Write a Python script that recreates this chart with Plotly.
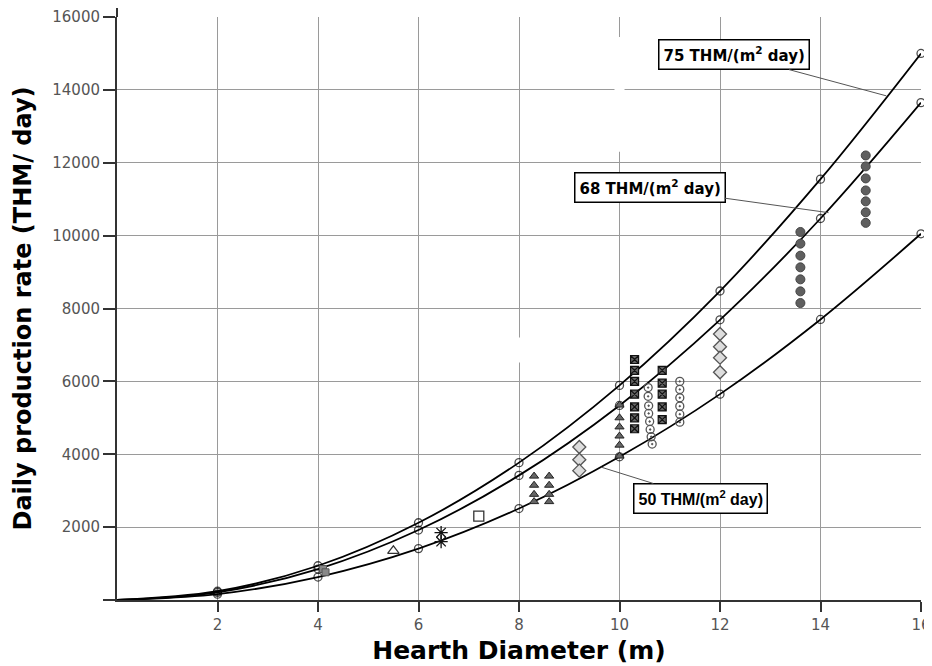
import plotly.graph_objects as go

# Hearth diameter grid for the constant-productivity curves
diam = [0, 2, 4, 6, 8, 10, 12, 14, 16]
rate75 = [0, 240, 940, 2120, 3770, 5890, 8480, 11550, 15000]
rate68 = [0, 210, 850, 1920, 3420, 5340, 7690, 10470, 13650]
rate50 = [0, 160, 630, 1410, 2510, 3930, 5650, 7700, 10050]

# Plant data points (diameter, production)
hatch_x = [4.1, 4.15]
hatch_y = [850, 760]
tri_open_x = [5.5]
tri_open_y = [1350]
star_x = [6.45, 6.45]
star_y = [1850, 1600]
sq_open_x = [7.2]
sq_open_y = [2300]
tri_x = [8.3, 8.3, 8.3, 8.3, 8.6, 8.6, 8.6, 8.6, 10, 10, 10, 10, 10, 10]
tri_y = [3400, 3150, 2900, 2700, 3400, 3150, 2900, 2700, 5350, 5000, 4750, 4500, 4250, 3950]
dia_x = [9.2, 9.2, 9.2, 12, 12, 12, 12]
dia_y = [4200, 3850, 3550, 7300, 6950, 6650, 6250]
sq_x = [10.3] * 7 + [10.85] * 5
sq_y = [6600, 6300, 6000, 5650, 5300, 5000, 4700, 6300, 5950, 5650, 5300, 4950]
dot_x = [10.57, 10.57, 10.58, 10.58, 10.6, 10.61, 10.63, 10.65] + [11.2] * 6
dot_y = [5830, 5590, 5330, 5120, 4900, 4680, 4480, 4280, 6000, 5780, 5550, 5320, 5100, 4880]
gc_x = [13.6] * 7 + [14.9] * 7
gc_y = [10100, 9780, 9450, 9130, 8800, 8470, 8150, 12200, 11900, 11570, 11240, 10940, 10640, 10350]

x_ticks = [2, 4, 6, 8, 10, 12, 14, 16]
y_ticks = [2000, 4000, 6000, 8000, 10000, 12000, 14000, 16000]
y_tick_text = ["2000", "4000", "6000", "8000", "10000", "12000", "14000", "16000"]

fig = go.Figure()

for ys in (rate75, rate68, rate50):
    fig.add_trace(go.Scatter(
        x=diam, y=ys, mode="lines+markers", line=dict(color="black", width=1.8, shape="spline"),
        marker=dict(symbol="circle-open", size=[0] + [8] * 8, color="black", line=dict(width=1.3)),
        cliponaxis=False, showlegend=False, hoverinfo="skip"))

def pts(x, y, **m):
    fig.add_trace(go.Scatter(x=x, y=y, mode="markers", marker=m, showlegend=False, hoverinfo="skip"))

pts(hatch_x, hatch_y, symbol="square", size=7, color="#888", line=dict(color="#555", width=1))
pts(tri_open_x, tri_open_y, symbol="triangle-up-open", size=10, color="#333", line=dict(width=1.2))
pts(star_x, star_y, symbol="asterisk-open", size=11, color="#111", line=dict(width=1.3))
pts(sq_open_x, sq_open_y, symbol="square-open", size=10, color="#333", line=dict(width=1.3))
pts(tri_x, tri_y, symbol="triangle-up", size=8, color="#666", line=dict(color="#222", width=1))
pts(dia_x, dia_y, symbol="diamond", size=10, color="#ddd", line=dict(color="#555", width=1.3))
pts(sq_x, sq_y, symbol="square-x", size=8, color="#666", line=dict(color="#111", width=1.2))
pts(dot_x, dot_y, symbol="circle-open-dot", size=8, color="#555", line=dict(width=1.3))
pts(gc_x, gc_y, symbol="circle", size=9, color="#5f5f5f", line=dict(color="#444", width=1))

axis_common = dict(showgrid=True, gridcolor="#9a9a9a", gridwidth=1, showline=True, linecolor="#333",
                   linewidth=2, ticks="outside", tickcolor="#333", tickwidth=1.5, automargin=False,
                   tickfont=dict(family="DejaVu Sans", size=15, color="#555"), zeroline=False)

fig.update_xaxes(range=[0, 16], tickvals=x_ticks, ticklen=10, **axis_common,
                 title=dict(text="<b>Hearth Diameter (m)</b>",
                            font=dict(family="DejaVu Sans", size=25, color="black"), standoff=8))
fig.update_yaxes(range=[0, 16000], tickvals=y_ticks, ticktext=y_tick_text, ticklen=12, **axis_common,
                 title=dict(text="<b>Daily production rate (THM/ day)</b>",
                            font=dict(family="DejaVu Sans", size=24, color="black"), standoff=14))

shapes = [
    # axis extensions
    dict(type="line", xref="paper", yref="paper", x0=-14 / 804, x1=0, y0=0, y1=0,
         line=dict(color="#333", width=2)),
    dict(type="line", xref="paper", yref="paper", x0=0, x1=0, y0=1, y1=1 + 12 / 583,
         line=dict(color="#333", width=2)),
    # white patches where the original grid is broken
    dict(type="rect", xref="x", yref="y", x0=7.48, x1=9.96, y0=6520, y1=7205,
         fillcolor="white", line=dict(width=0), layer="between"),
    dict(type="rect", xref="x", yref="y", x0=9.9, x1=10.1, y0=12300, y1=15450,
         fillcolor="white", line=dict(width=0), layer="between"),
]
fig.update_layout(shapes=shapes)

ann_font_bold = dict(family="DejaVu Sans", size=15, color="black")
fig.add_annotation(x=15.31, y=13836, ax=-152, ay=-41, text="<b>75 THM/(m<sup>2</sup> day)</b>",
                   showarrow=True, arrowhead=0, arrowcolor="#555", arrowwidth=1,
                   bordercolor="black", borderwidth=1.5, borderpad=4, bgcolor="white", font=ann_font_bold)
fig.add_annotation(x=14.16, y=10630, ax=-179, ay=-25, text="<b>68 THM/(m<sup>2</sup> day)</b>",
                   showarrow=True, arrowhead=0, arrowcolor="#555", arrowwidth=1,
                   bordercolor="black", borderwidth=1.5, borderpad=4, bgcolor="white", font=ann_font_bold)
fig.add_annotation(x=9.64, y=3644, ax=99, ay=31, text="<b>50 THM/(m<sup>2</sup> day)</b>",
                   showarrow=True, arrowhead=0, arrowcolor="#555", arrowwidth=1,
                   bordercolor="black", borderwidth=1.5, borderpad=4, bgcolor="white",
                   font=dict(family="Liberation Sans", size=16, color="black"))

# page body has an 8px margin, so the figure is sized and offset to compensate
fig.update_layout(width=924, height=658, margin=dict(l=109, r=11, t=9, b=66),
                  paper_bgcolor="white", plot_bgcolor="white")

fig.write_html("out.html")
